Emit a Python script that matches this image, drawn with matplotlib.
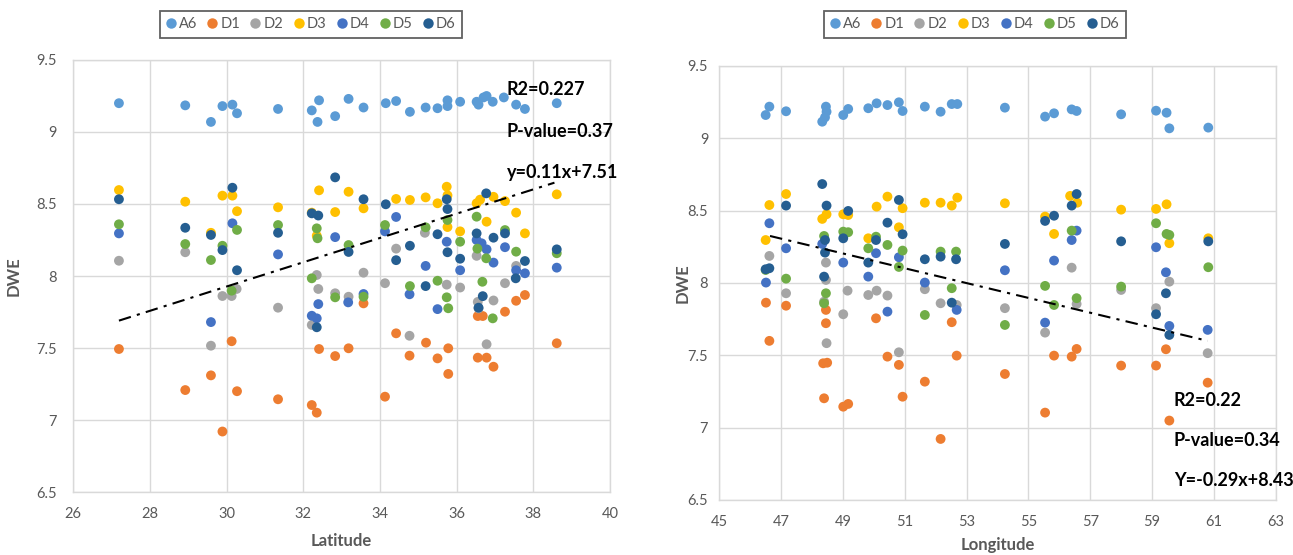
import numpy as np
import matplotlib
matplotlib.use("Agg")
import matplotlib.pyplot as plt
from matplotlib.lines import Line2D

plt.rcParams["font.family"] = ["Lato", "DejaVu Sans"]

SERIES = ["A6", "D1", "D2", "D3", "D4", "D5", "D6"]
SERIES_COLORS = {
    "A6": "#5B9BD5",
    "D1": "#ED7D31",
    "D2": "#A5A5A5",
    "D3": "#FFC000",
    "D4": "#4472C4",
    "D5": "#70AD47",
    "D6": "#255E91",
}

# ---- left panel: DWE vs latitude ----
lat_A6 = [27.19, 28.92, 29.59, 29.89, 30.15, 30.27, 31.34, 32.22, 32.41, 32.37, 32.83, 33.18, 33.57, 34.15, 34.42,
          34.78, 35.19, 35.50, 35.76, 35.76, 36.09, 36.52, 36.57, 36.70, 36.78, 36.94, 37.23, 37.55, 37.78, 38.61]
dwe_lat_A6 = [9.20, 9.185, 9.07, 9.18, 9.19, 9.13, 9.16, 9.15, 9.22, 9.07, 9.11, 9.23, 9.17, 9.20, 9.215,
              9.14, 9.17, 9.165, 9.22, 9.18, 9.21, 9.21, 9.19, 9.24, 9.25, 9.21, 9.24, 9.19, 9.16, 9.20]

lat_D1 = [27.19, 28.92, 29.59, 29.89, 30.13, 30.27, 31.34, 32.22, 32.35, 32.41, 32.83, 33.18, 33.57, 34.13, 34.42,
          34.77, 35.20, 35.50, 35.78, 35.78, 36.55, 36.68, 36.55, 36.78, 36.96, 37.26, 37.55, 37.78, 38.61]
dwe_lat_D1 = [7.493, 7.208, 7.31, 6.92, 7.547, 7.20, 7.144, 7.104, 7.051, 7.493, 7.444, 7.498, 7.81, 7.162, 7.602,
              7.447, 7.537, 7.428, 7.498, 7.32, 7.722, 7.722, 7.433, 7.433, 7.37, 7.752, 7.828, 7.868, 7.533]

lat_D2 = [27.19, 28.92, 29.59, 29.89, 30.13, 30.26, 31.34, 32.22, 32.35, 32.39, 32.83, 33.18, 33.57, 34.13, 34.42,
          34.77, 35.17, 35.74, 36.09, 36.52, 36.55, 36.57, 36.78, 36.96, 37.26, 37.55]
dwe_lat_D2 = [8.106, 8.165, 7.516, 7.861, 7.861, 7.91, 7.78, 7.66, 8.007, 7.91, 7.88, 7.856, 8.023, 7.95, 8.19,
              7.585, 8.30, 7.94, 7.92, 8.14, 7.82, 7.775, 7.526, 7.83, 7.95, 8.07]

lat_D3 = [27.19, 28.92, 29.59, 29.89, 30.15, 30.27, 31.34, 32.22, 32.35, 32.41, 32.83, 33.18, 33.57, 34.42, 34.78,
          35.19, 35.50, 35.74, 35.76, 35.76, 36.09, 36.52, 36.61, 36.78, 36.96, 37.26, 37.55, 37.78, 38.61]
dwe_lat_D3 = [8.597, 8.516, 8.30, 8.558, 8.558, 8.45, 8.477, 8.44, 8.28, 8.595, 8.444, 8.585, 8.47, 8.535, 8.528,
              8.546, 8.505, 8.62, 8.56, 8.34, 8.31, 8.505, 8.53, 8.377, 8.55, 8.52, 8.44, 8.296, 8.567]

lat_D4 = [27.19, 29.59, 30.15, 31.34, 32.22, 32.35, 32.39, 32.83, 33.17, 33.57, 34.13, 34.42, 34.77, 35.19, 35.50,
          35.74, 36.09, 36.52, 36.65, 36.78, 36.96, 37.26, 37.55, 37.78, 38.61]
dwe_lat_D4 = [8.296, 7.68, 8.366, 8.15, 7.724, 7.706, 7.805, 8.27, 7.817, 7.875, 8.31, 8.41, 7.873, 8.07, 7.77,
              8.238, 8.04, 8.25, 8.227, 8.185, 8.093, 8.2, 8.04, 8.019, 8.058]

lat_D5 = [27.19, 28.92, 29.59, 29.89, 30.13, 30.27, 31.34, 32.22, 32.35, 32.37, 32.83, 33.18, 33.57, 34.13, 34.78,
          35.19, 35.50, 35.74, 35.76, 35.78, 36.09, 36.52, 36.54, 36.67, 36.77, 36.94, 37.26, 37.55, 38.61]
dwe_lat_D5 = [8.359, 8.222, 8.111, 8.21, 7.898, 8.32, 8.354, 7.984, 8.331, 8.262, 7.852, 8.215, 7.856, 8.354, 7.93,
              8.338, 7.967, 7.852, 8.389, 7.776, 8.238, 8.412, 8.19, 7.96, 8.123, 7.706, 8.319, 8.169, 8.158]

lat_D6 = [27.19, 28.92, 29.59, 29.89, 30.15, 30.27, 31.34, 32.22, 32.35, 32.39, 32.83, 33.18, 33.57, 34.15, 34.42,
          34.78, 35.19, 35.50, 35.74, 35.76, 35.76, 36.09, 36.52, 36.57, 36.68, 36.77, 36.96, 37.26, 37.54, 37.78, 38.61]
dwe_lat_D6 = [8.533, 8.335, 8.285, 8.18, 8.613, 8.04, 8.30, 8.435, 7.644, 8.42, 8.685, 8.167, 8.533, 8.498, 8.11,
              8.21, 7.93, 8.29, 8.533, 8.465, 8.165, 8.12, 8.296, 7.78, 7.86, 8.574, 8.266, 8.296, 7.984, 8.104, 8.185]

trend_lat_x = [27.19, 38.55]
trend_lat_y = [7.69, 8.648]
stats_lat = ["R2=0.227", "P-value=0.37", "y=0.11x+7.51"]

# ---- right panel: DWE vs longitude ----
lon_A6 = [46.50, 46.62, 47.16, 48.33, 48.42, 48.45, 48.47, 49.01, 49.17, 49.82, 50.09, 50.44, 50.81, 50.93,
          51.65, 52.16, 52.52, 52.70, 54.24, 55.54, 55.83, 56.40, 56.56, 58.00, 59.13, 59.47, 59.56, 60.82]
dwe_lon_A6 = [9.161, 9.219, 9.187, 9.115, 9.145, 9.219, 9.184, 9.161, 9.203, 9.208, 9.242, 9.23, 9.249, 9.189,
              9.219, 9.184, 9.237, 9.237, 9.212, 9.15, 9.173, 9.2, 9.189, 9.166, 9.191, 9.177, 9.069, 9.074]

lon_D1 = [46.51, 46.62, 47.16, 48.45, 48.45, 48.36, 48.49, 48.39, 49.01, 49.17, 50.07, 50.44, 50.81, 50.93,
          51.65, 52.16, 52.52, 52.68, 54.24, 55.54, 55.83, 56.40, 56.56, 58.00, 59.13, 59.45, 59.56, 60.80]
dwe_lon_D1 = [7.864, 7.60, 7.843, 7.814, 7.722, 7.445, 7.449, 7.203, 7.145, 7.164, 7.756, 7.491, 7.434, 7.214,
              7.318, 6.922, 7.729, 7.498, 7.371, 7.104, 7.498, 7.491, 7.544, 7.429, 7.429, 7.542, 7.049, 7.311]

lon_D2 = [46.62, 47.16, 48.45, 48.45, 48.39, 48.47, 49.01, 49.15, 49.82, 50.09, 50.44, 50.81, 51.65, 52.16,
          52.68, 54.24, 55.54, 56.40, 56.56, 58.00, 59.13, 59.56, 60.80]
dwe_lon_D2 = [8.187, 7.929, 8.141, 8.021, 7.871, 7.584, 7.784, 7.947, 7.917, 7.947, 7.913, 7.521, 7.957, 7.86,
              7.848, 7.826, 7.657, 8.106, 7.855, 7.952, 7.826, 8.009, 7.515]

lon_D3 = [46.50, 46.62, 47.16, 48.33, 48.47, 49.01, 49.17, 49.82, 50.09, 50.44, 50.81, 50.93, 51.65, 52.16,
          52.52, 52.70, 54.24, 55.54, 55.83, 56.35, 56.58, 58.00, 59.13, 59.47, 59.56, 60.82]
dwe_lon_D3 = [8.297, 8.539, 8.615, 8.443, 8.475, 8.475, 8.47, 8.309, 8.528, 8.597, 8.385, 8.517, 8.555, 8.555,
              8.535, 8.59, 8.551, 8.459, 8.339, 8.602, 8.555, 8.507, 8.512, 8.544, 8.275, 8.309]

lon_D4 = [46.51, 46.62, 47.16, 48.33, 49.01, 49.82, 50.07, 50.44, 50.81, 51.65, 52.68, 54.24, 55.54, 55.83,
          56.40, 56.56, 59.13, 59.45, 59.56, 60.80]
dwe_lon_D4 = [8.003, 8.413, 8.24, 8.27, 8.141, 8.044, 8.206, 7.802, 8.178, 8.003, 7.814, 8.088, 7.726, 8.155,
              8.297, 8.362, 8.247, 8.074, 7.703, 7.676]

lon_D5 = [46.50, 47.16, 48.39, 48.39, 48.45, 49.01, 49.17, 49.82, 50.07, 50.44, 50.81, 50.93, 51.65, 52.16,
          52.52, 52.66, 54.24, 55.54, 55.83, 56.40, 56.56, 58.00, 59.13, 59.47, 59.56, 60.82]
dwe_lon_D5 = [8.09, 8.03, 8.325, 7.86, 7.929, 8.355, 8.351, 8.24, 8.32, 8.263, 8.111, 8.224, 7.779, 8.217,
              7.964, 8.217, 7.71, 7.98, 7.848, 8.362, 7.895, 7.975, 8.413, 8.339, 8.332, 8.109]

lon_D6 = [46.50, 46.62, 47.16, 48.33, 48.39, 48.42, 48.42, 48.47, 49.01, 49.17, 49.82, 50.07, 50.44, 50.81,
          50.93, 51.65, 52.16, 52.52, 52.66, 54.24, 55.54, 55.83, 56.40, 56.56, 58.00, 59.13, 59.45, 59.56, 60.82]
dwe_lon_D6 = [8.095, 8.102, 8.535, 8.684, 8.044, 8.297, 8.21, 8.535, 8.309, 8.498, 8.141, 8.297, 8.417, 8.574,
              8.337, 8.164, 8.182, 7.864, 8.164, 8.27, 8.429, 8.465, 8.535, 8.615, 8.288, 7.784, 7.929, 7.641, 8.288]

trend_lon_x = [46.64, 60.80]
trend_lon_y = [8.325, 7.60]
stats_lon = ["R2=0.22", "P-value=0.34", "Y=-0.29x+8.43"]

GRID = "#D9D9D9"
TEXT_GRAY = "#595959"


def draw_panel(ax, xs, ys, trend_x, trend_y, xlim, xticks, ypad):
    for name, x, y in zip(SERIES, xs, ys):
        ax.scatter(x, y, s=50, color=SERIES_COLORS[name], edgecolors="none", zorder=3)
    # trend line over the D-series
    ax.plot(trend_x, trend_y, color="black", lw=1.5, ls=(0, (6, 3, 1.5, 3)), zorder=4)

    ax.set_xlim(*xlim)
    ax.set_ylim(6.5, 9.5)
    ax.set_xticks(xticks)
    ax.set_yticks(np.arange(6.5, 9.51, 0.5))
    ax.set_yticklabels([f"{v:g}" for v in np.arange(6.5, 9.51, 0.5)])
    ax.grid(True, color=GRID, lw=1)
    ax.set_axisbelow(True)
    for sp in ax.spines.values():
        sp.set_color(GRID)
        sp.set_linewidth(1)
    ax.tick_params(axis="both", length=0, labelsize=10.5, labelcolor=TEXT_GRAY)
    ax.tick_params(axis="x", pad=11)
    ax.tick_params(axis="y", pad=ypad)


fig = plt.figure(figsize=(12.93, 5.55), dpi=100)
ax1 = fig.add_axes([0.0567, 0.1135, 0.4151, 0.7784])
ax2 = fig.add_axes([0.5563, 0.0991, 0.4303, 0.7820])

draw_panel(
    ax1,
    [lat_A6, lat_D1, lat_D2, lat_D3, lat_D4, lat_D5, lat_D6],
    [dwe_lat_A6, dwe_lat_D1, dwe_lat_D2, dwe_lat_D3, dwe_lat_D4, dwe_lat_D5, dwe_lat_D6],
    trend_lat_x, trend_lat_y, (26, 40), np.arange(26, 41, 2), 12,
)
draw_panel(
    ax2,
    [lon_A6, lon_D1, lon_D2, lon_D3, lon_D4, lon_D5, lon_D6],
    [dwe_lon_A6, dwe_lon_D1, dwe_lon_D2, dwe_lon_D3, dwe_lon_D4, dwe_lon_D5, dwe_lon_D6],
    trend_lon_x, trend_lon_y, (45, 63), np.arange(45, 64, 2), 8,
)

stat_kw = dict(fontsize=13, fontweight="bold", color="black", ha="left", va="center", zorder=5)
for txt, yy in zip(stats_lat, [0.9306, 0.834, 0.7407]):
    ax1.text(0.8075, yy, txt, transform=ax1.transAxes, **stat_kw)
for txt, yy in zip(stats_lon, [0.2304, 0.136, 0.0438]):
    ax2.text(0.817, yy, txt, transform=ax2.transAxes, clip_on=False, **stat_kw)

label_kw = dict(fontsize=12, fontweight="bold", color=TEXT_GRAY, ha="center", va="center")
fig.text(14 / 1293, 0.503, "DWE", rotation=90, **label_kw)
fig.text(683 / 1293, 0.49, "DWE", rotation=90, **label_kw)
fig.text(341.7 / 1293, 1 - 541 / 555, "Latitude", **label_kw)
fig.text(997.5 / 1293, 1 - 545 / 555, "Longitude", **label_kw)

handles = [Line2D([], [], ls="none", marker="o", markersize=7.5, color=SERIES_COLORS[n], markeredgewidth=0)
           for n in SERIES]
for cx in [311 / 1293, 975 / 1293]:
    leg = fig.legend(handles, SERIES, loc="center", bbox_to_anchor=(cx, 1 - 24.5 / 555), ncol=7,
                     frameon=True, fancybox=False, fontsize=10.5, handlelength=0.6, handletextpad=0.25,
                     columnspacing=0.75, borderpad=0.45, labelcolor=TEXT_GRAY)
    leg.get_frame().set_edgecolor("#3a3a3a")
    leg.get_frame().set_linewidth(1.3)

fig.savefig("out.png", dpi=100)
